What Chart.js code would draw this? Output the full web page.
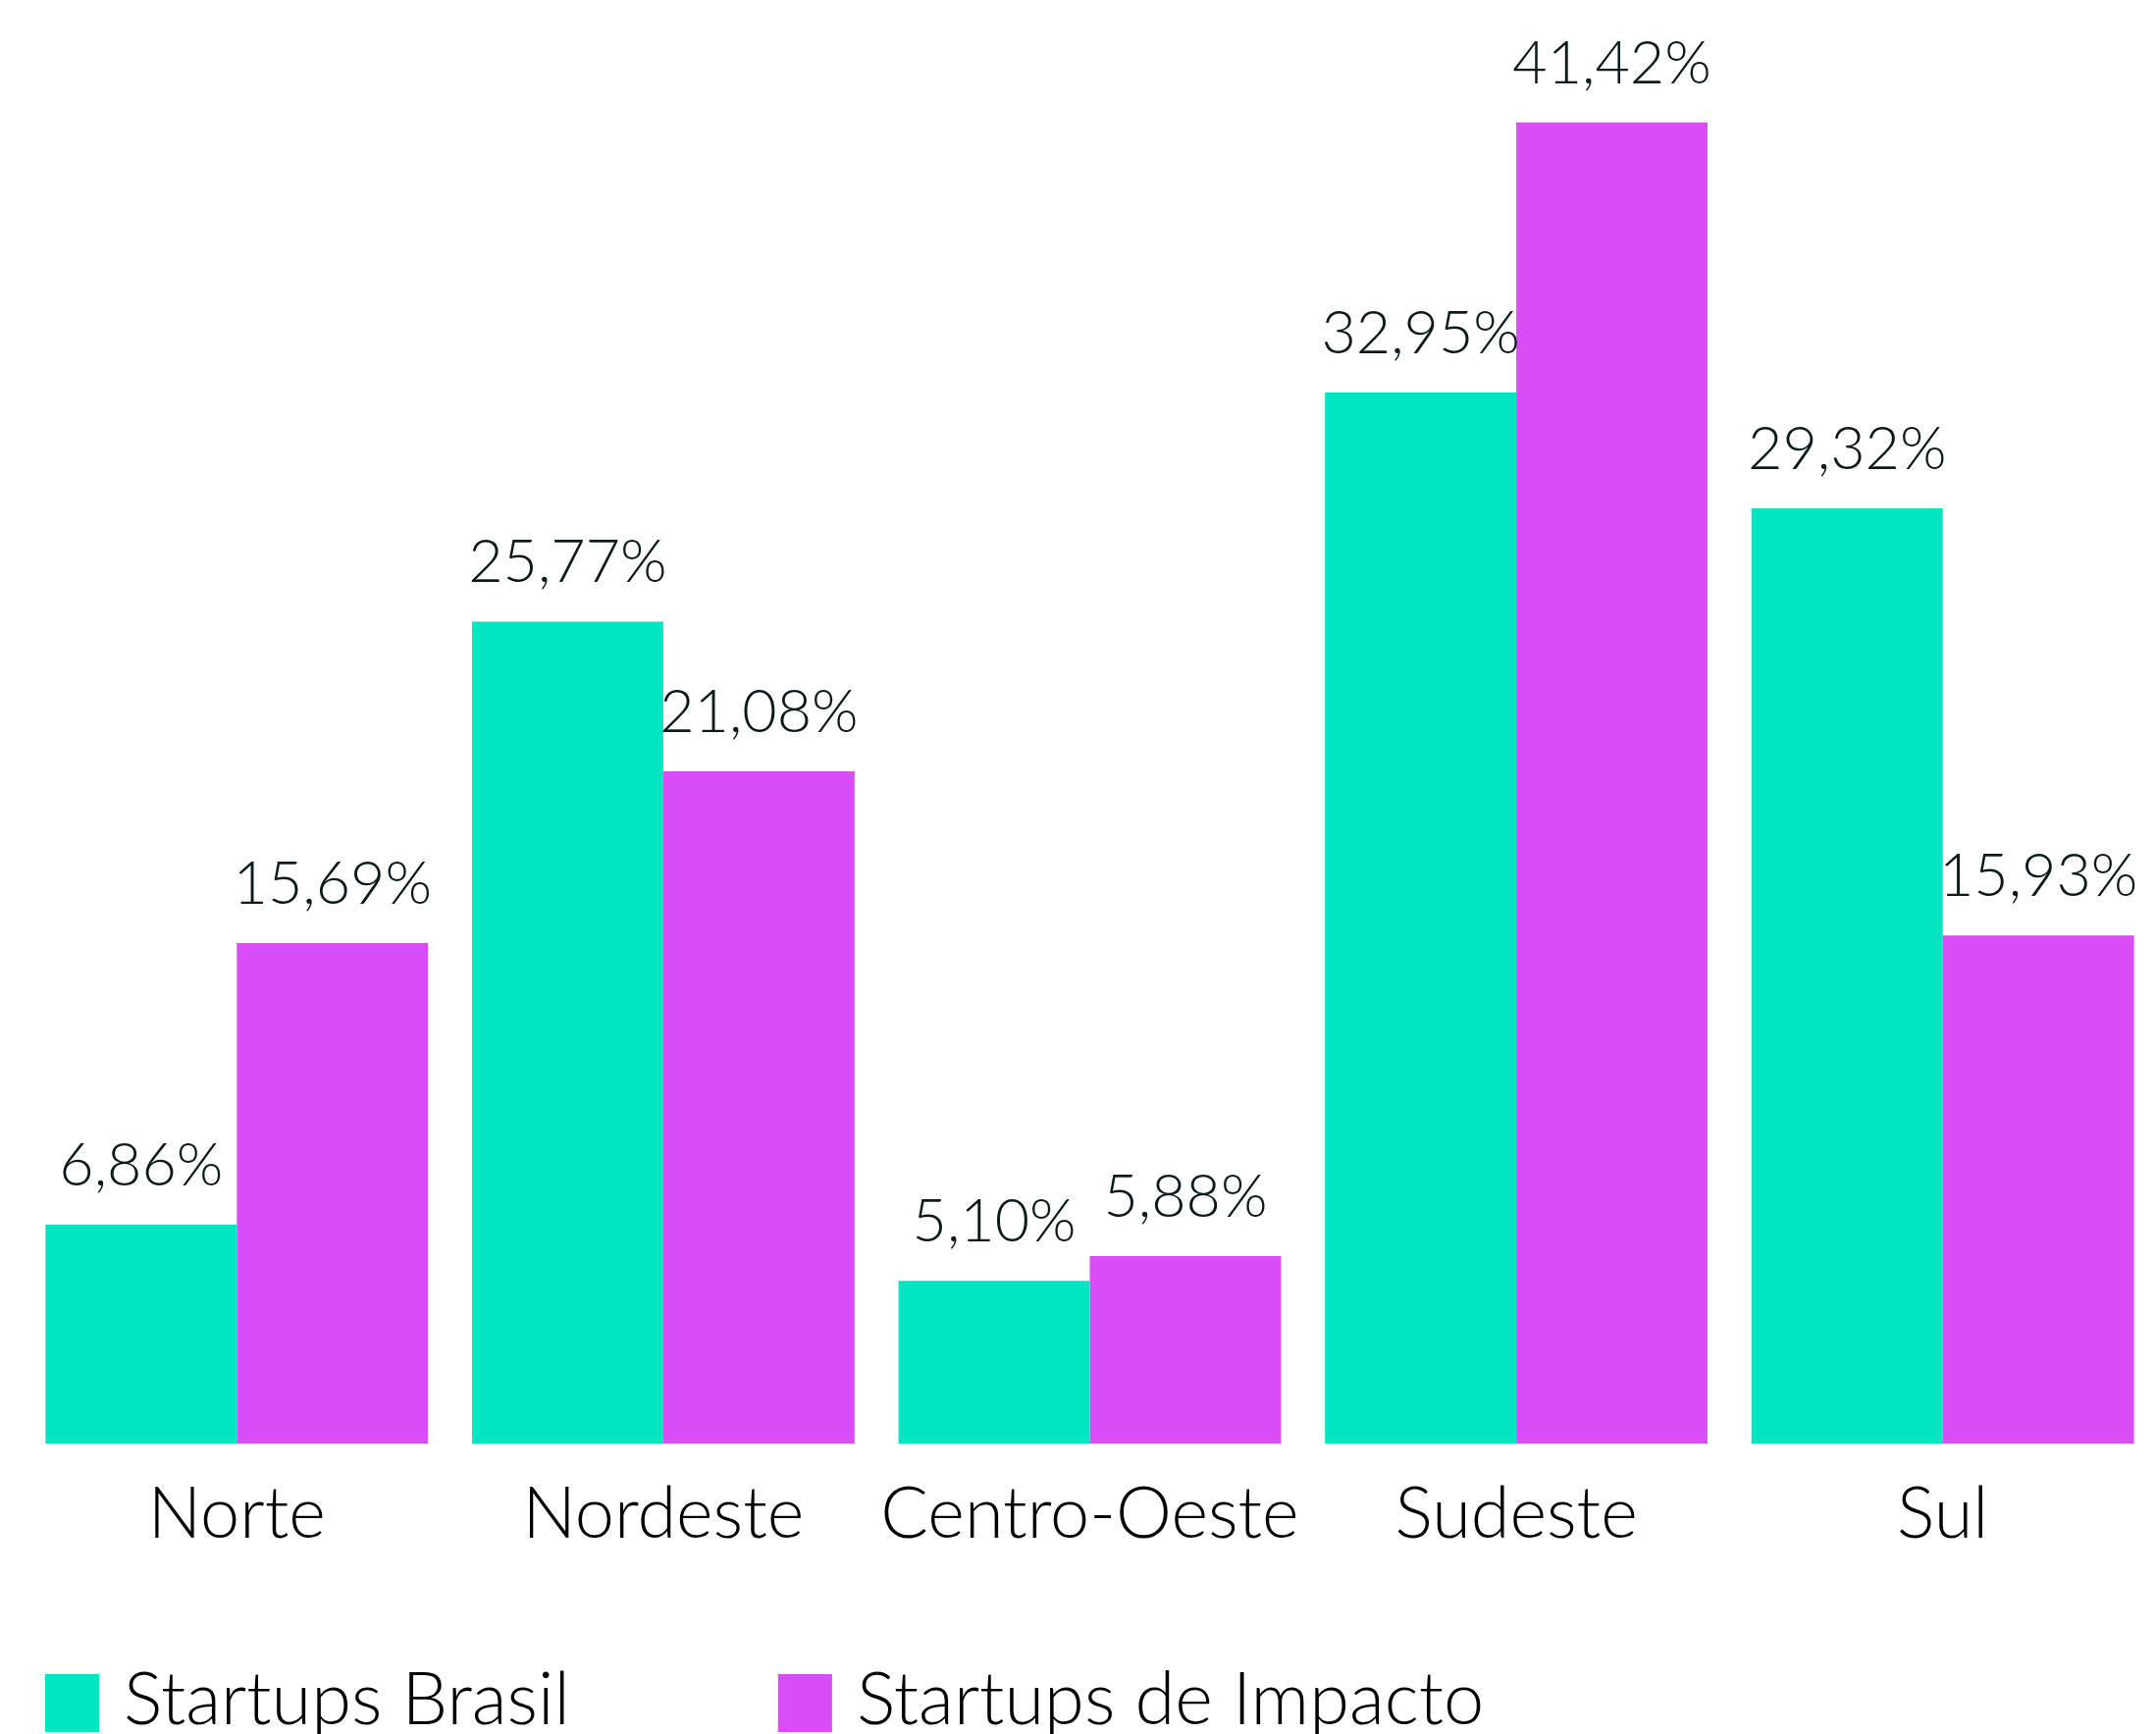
<!DOCTYPE html>
<html>
<head>
<meta charset="utf-8">
<script src="https://cdn.jsdelivr.net/npm/chart.js@4"></script>
<style>
  html, body { margin: 0; padding: 0; background: #ffffff; }
  #c { display: block; }
</style>
</head>
<body>
<canvas id="c" width="2197" height="1767"></canvas>
<script>
const categories = ['Norte', 'Nordeste', 'Centro-Oeste', 'Sudeste', 'Sul'];
const seriesNames = ['Startups Brasil', 'Startups de Impacto'];
const startupsBrasil = [6.86, 25.77, 5.10, 32.95, 29.32];
const startupsImpacto = [15.69, 21.08, 5.88, 41.42, 15.93];
const seriesColors = ['#00E5C2', '#D94DF7'];

const FONT = 'Lato, "Noto Sans", sans-serif';

function fmt(v) { return v.toFixed(2).replace('.', ',') + '%'; }

const valueLabels = {
  id: 'valueLabels',
  afterDatasetsDraw(chart) {
    const ctx = chart.ctx;
    ctx.save();
    ctx.font = '300 61px ' + FONT;
    ctx.fillStyle = '#0B1B1D';
    ctx.textAlign = 'center';
    ctx.textBaseline = 'alphabetic';
    chart.data.datasets.forEach((ds, di) => {
      chart.getDatasetMeta(di).data.forEach((bar, i) => {
        ctx.fillText(fmt(ds.data[i]), bar.x, bar.y - 40);
      });
    });
    ctx.restore();
  }
};

const customLegend = {
  id: 'customLegend',
  afterDraw(chart) {
    const ctx = chart.ctx;
    ctx.save();
    ctx.font = '300 74px ' + FONT;
    ctx.textBaseline = 'alphabetic';
    ctx.textAlign = 'left';
    let x = 46;
    const boxW = 55, boxH = 59, boxTop = 1706, baseline = 1757;
    chart.data.datasets.forEach((ds) => {
      ctx.fillStyle = ds.backgroundColor;
      ctx.fillRect(x, boxTop, boxW, boxH);
      ctx.fillStyle = '#000000';
      const tx = x + boxW + 25;
      ctx.fillText(ds.label, tx, baseline);
      x = tx + ctx.measureText(ds.label).width + 212;
    });
    ctx.restore();
  }
};

new Chart(document.getElementById('c'), {
  type: 'bar',
  data: {
    labels: categories,
    datasets: [
      { label: seriesNames[0], data: startupsBrasil, backgroundColor: seriesColors[0] },
      { label: seriesNames[1], data: startupsImpacto, backgroundColor: seriesColors[1] }
    ]
  },
  options: {
    responsive: false,
    devicePixelRatio: 1,
    animation: false,
    layout: { padding: { left: 24, right: 0, top: 0, bottom: 0 } },
    plugins: {
      legend: { display: false },
      tooltip: { enabled: false }
    },
    datasets: {
      bar: { categoryPercentage: 0.897, barPercentage: 1.0, borderWidth: 0 }
    },
    scales: {
      x: {
        grid: { display: false },
        border: { display: false },
        ticks: {
          color: '#000000',
          font: { family: FONT, size: 72, weight: '300' },
          padding: 22,
          maxRotation: 0,
          autoSkip: false
        },
        afterFit(scale) { scale.height = 296; }
      },
      y: {
        display: false,
        min: 0,
        max: 45.26
      }
    }
  },
  plugins: [valueLabels, customLegend]
});
</script>
</body>
</html>
